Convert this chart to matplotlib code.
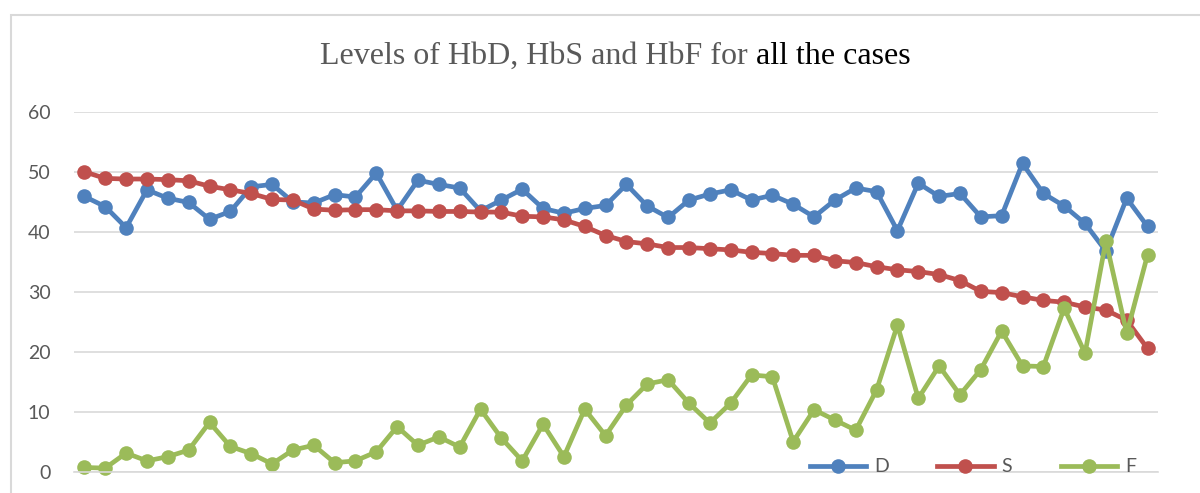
import matplotlib
matplotlib.use("Agg")
import matplotlib.pyplot as plt
from matplotlib.patches import Rectangle
from matplotlib.lines import Line2D

cases = list(range(1, 53))
D = [45.9, 44.2, 40.7, 47.0, 45.6, 44.9, 42.1, 43.4, 47.5, 47.9,
     45.0, 44.8, 46.2, 45.8, 49.8, 43.6, 48.6, 47.9, 47.3, 43.5,
     45.3, 47.1, 43.9, 43.1, 43.9, 44.4, 47.9, 44.3, 42.4, 45.3,
     46.3, 47.0, 45.3, 46.1, 44.6, 42.5, 45.3, 47.3, 46.7, 40.2,
     48.1, 45.9, 46.4, 42.5, 42.7, 51.4, 46.4, 44.3, 41.4, 36.8,
     45.6, 40.9]
S = [50.0, 48.9, 48.8, 48.8, 48.7, 48.5, 47.6, 47.0, 46.4, 45.4,
     45.3, 43.8, 43.6, 43.7, 43.7, 43.5, 43.5, 43.4, 43.4, 43.3,
     43.3, 42.6, 42.5, 42.0, 40.9, 39.4, 38.4, 38.0, 37.4, 37.4,
     37.2, 37.0, 36.6, 36.4, 36.1, 36.1, 35.2, 34.9, 34.2, 33.7,
     33.4, 32.9, 31.9, 30.1, 29.9, 29.2, 28.6, 28.3, 27.5, 27.0,
     25.3, 20.6]
F = [0.8, 0.7, 3.2, 1.9, 2.6, 3.7, 8.3, 4.3, 3.1, 1.4,
     3.7, 4.5, 1.6, 1.9, 3.4, 7.6, 4.5, 5.9, 4.2, 10.5,
     5.7, 1.9, 8.0, 2.6, 10.5, 6.1, 11.2, 14.7, 15.4, 11.5,
     8.2, 11.5, 16.2, 15.9, 5.1, 10.4, 8.7, 7.0, 13.7, 24.5,
     12.3, 17.7, 12.9, 17.1, 23.5, 17.7, 17.6, 27.3, 19.8, 38.5,
     23.1, 36.2]
series_names = ["D", "S", "F"]
series_colors = ["#4F81BD", "#C0504D", "#9BBB59"]
yticks = [0, 10, 20, 30, 40, 50, 60]

W, H = 1200, 493
fig = plt.figure(figsize=(W / 100, H / 100), dpi=100)

# chart border
fig.patches.append(Rectangle((11 / W, -0.1), 1.2, (H - 15) / H + 0.1,
                             transform=fig.transFigure, fill=False,
                             edgecolor="#D9D9D9", linewidth=1.5))

ax = fig.add_axes([74 / W, (H - 472.3) / H, (1158 - 74) / W, (472.3 - 111.7) / H])
x = list(range(len(cases)))
for vals, name, col in zip([D, S, F], series_names, series_colors):
    ax.plot(x, vals, color=col, linewidth=3.4, marker="o", markersize=10.5,
            markeredgewidth=0, label=name, solid_capstyle="round", clip_on=False)

ax.set_xlim(-0.5, len(cases) - 0.5)
ax.set_ylim(0, 60)
ax.set_yticks(yticks)
ax.set_xticks([])
ax.grid(axis="y", color="#D9D9D9", linewidth=1.2)
ax.set_axisbelow(True)
for sp in ["top", "right", "left"]:
    ax.spines[sp].set_visible(False)
ax.spines["bottom"].set_color("#D9D9D9")
ax.spines["bottom"].set_linewidth(1.2)
ax.tick_params(axis="y", length=0, pad=17, labelsize=14, labelcolor="#595959")
for lab in ax.get_yticklabels():
    lab.set_fontfamily("Lato")

handles = [Line2D([0], [0], color=c, linewidth=3.4, marker="o", markersize=10.5,
                  markeredgewidth=0) for c in series_colors]
leg = fig.legend(handles, series_names, loc="center left",
                 bbox_to_anchor=(800 / W, (H - 467) / H), ncol=3, frameon=False,
                 prop={"family": "Lato", "size": 14}, handlelength=2.9,
                 columnspacing=2.5, handletextpad=0.4, borderpad=0)
for t in leg.get_texts():
    t.set_color("#595959")

# title in two colours
fig.canvas.draw()
r = fig.canvas.get_renderer()
t1 = fig.text(0, (H - 56) / H, "Levels of HbD, HbS and HbF for ", family="Liberation Serif",
              fontsize=23, color="#595959", va="center", ha="left")
t2 = fig.text(0, (H - 56) / H, "all the cases", family="Liberation Serif",
              fontsize=23, color="black", va="center", ha="left")
w1 = t1.get_window_extent(r).width
w2 = t2.get_window_extent(r).width
start = (318 + 912) / 2 - (w1 + w2) / 2
t1.set_x(start / W)
t2.set_x((start + w1) / W)

fig.savefig("out.png", dpi=100)
